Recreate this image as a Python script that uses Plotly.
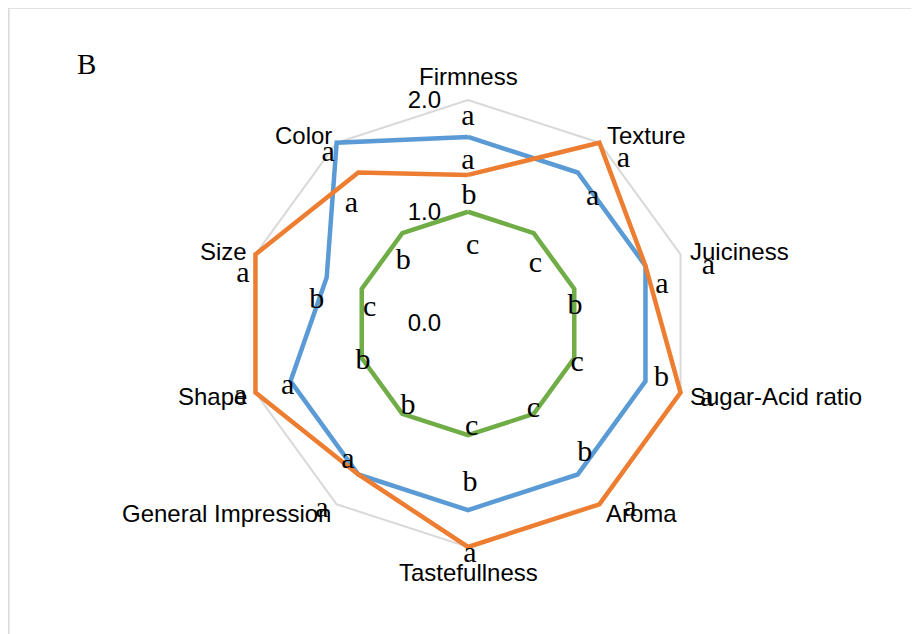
import math
import plotly.graph_objects as go

# Attributes (clockwise from top)
attributes = ['Firmness', 'Texture', 'Juiciness', 'Sugar-Acid ratio', 'Aroma',
              'Tastefullness', 'General Impression', 'Shape', 'Size', 'Color']

blue_vals = [1.67, 1.67, 1.67, 1.67, 1.67, 1.67, 1.67, 1.67, 1.33, 2.0]
orange_vals = [1.33, 2.0, 1.67, 2.0, 2.0, 2.0, 1.67, 2.0, 2.0, 1.67]
green_vals = [1.0, 1.0, 1.0, 1.0, 1.0, 1.0, 1.0, 1.0, 1.0, 1.0]

radial_ticks = [0, 1, 2]

# where the attribute names sit (r, angle clockwise from top)
label_r = [2.21, 2.32, 2.51, 2.83, 2.30, 2.22, 2.75, 2.38, 2.28, 2.23]
label_theta = [0, 43.6, 75.2, 103.25, 137.5, 179.9, 231.9, 254.2, 286.3, 318.7]

# significance letters
letters = ['a', 'a', 'b', 'c',
           'a', 'a', 'c',
           'a', 'a', 'b',
           'a', 'b', 'c',
           'a', 'b', 'c',
           'a', 'b', 'c',
           'a', 'a', 'b',
           'a', 'a', 'b',
           'a', 'b', 'c',
           'a', 'a', 'b']
letter_r = [1.84, 1.45, 1.14, 0.69,
            2.02, 1.59, 0.80,
            2.21, 1.77, 0.97,
            2.24, 1.80, 1.04,
            2.20, 1.56, 0.97,
            2.07, 1.43, 0.93,
            2.12, 1.63, 0.92,
            2.14, 1.71, 1.00,
            2.06, 1.37, 0.89,
            1.97, 1.49, 0.80]
letter_theta = [0, 0, 0.5, 3.5,
                43.5, 44.6, 48.9,
                76.7, 78.8, 81.1,
                107.4, 105.8, 110.1,
                138.8, 138.0, 142.9,
                179.5, 179.3, 178.0,
                218.1, 221.2, 215.7,
                252.2, 250.6, 250.0,
                282.2, 278.8, 278.4,
                320.6, 315.5, 313.7]

W, H = 919, 634
OFF = 8                      # page body margin
CX, CY = 468, 323.5          # chart centre on the page
UNIT = 111.75                # pixels per 1.0 on the radial axis
R_MAX = 2.3                  # radial range (room for outer letters)
S = 2 * R_MAX * UNIT
ML, MT = CX - S / 2 - OFF, CY - S / 2 - OFF
MR, MB = W - ML - S, H - MT - S


def px_to_paper(x, y):
    return (x - OFF - ML) / S, (H - MB - (y - OFF)) / S


def polar_to_paper(r, theta):
    t = math.radians(theta)
    return px_to_paper(CX + r * UNIT * math.sin(t), CY - r * UNIT * math.cos(t))


def closed(vals):
    return list(vals) + [vals[0]]


fig = go.Figure()

series = [
    (blue_vals, '#5B9BD5'),
    (orange_vals, '#ED7D31'),
    (green_vals, '#70AD47'),
]
for vals, color in series:
    fig.add_trace(go.Scatterpolar(
        r=closed(vals),
        theta=closed(attributes),
        mode='lines',
        line=dict(color=color, width=4.5),
        showlegend=False,
        hoverinfo='skip',
        subplot='polar'
    ))

# letters
fig.add_trace(go.Scatterpolar(
    r=letter_r,
    theta=letter_theta,
    mode='text',
    text=letters,
    textposition='middle center',
    textfont=dict(family='Liberation Serif', size=30, color='#000000'),
    cliponaxis=False,
    showlegend=False,
    hoverinfo='skip',
    subplot='polar2'
))

annotations = []
for name, r, th in zip(attributes, label_r, label_theta):
    ax, ay = polar_to_paper(r, th)
    annotations.append(dict(
        x=ax, y=ay, xref='paper', yref='paper', text=name, showarrow=False,
        xanchor='center', yanchor='middle',
        font=dict(family='Liberation Sans', size=24, color='#000000')
    ))

bx, by = px_to_paper(86, 64)
annotations.append(dict(
    x=bx, y=by, xref='paper', yref='paper',
    text='B', showarrow=False,
    xanchor='center', yanchor='middle',
    font=dict(family='Liberation Serif', size=29, color='#000000')
))

x_left, y_top = px_to_paper(OFF + 0.75, 8.5)
x_right, y_bottom = px_to_paper(W + OFF, H + OFF)

tick_font = dict(family='Liberation Sans', size=24, color='#000000')

fig.update_layout(
    width=W, height=H,
    margin=dict(l=ML, r=MR, t=MT, b=MB),
    paper_bgcolor='#FFFFFF',
    font=dict(family='Liberation Sans', size=24, color='#000000'),
    polar=dict(
        domain=dict(x=[0, 1], y=[0, 1]),
        bgcolor='rgba(0,0,0,0)',
        gridshape='linear',
        angularaxis=dict(
            rotation=90,
            direction='clockwise',
            showgrid=False,
            showline=False,
            ticks='',
            showticklabels=False
        ),
        radialaxis=dict(
            range=[0, R_MAX],
            tickmode='array',
            tickvals=radial_ticks,
            tickformat='.1f',
            angle=90,
            tickangle=90,
            side='counterclockwise',
            showline=False,
            showgrid=True,
            gridcolor='#D9D9D9',
            gridwidth=1.5,
            ticks='outside',
            ticklen=18,
            tickcolor='rgba(0,0,0,0)',
            tickfont=tick_font,
            layer='below traces'
        )
    ),
    polar2=dict(
        domain=dict(x=[0, 1], y=[0, 1]),
        bgcolor='rgba(0,0,0,0)',
        angularaxis=dict(
            rotation=90,
            direction='clockwise',
            visible=False
        ),
        radialaxis=dict(
            range=[0, R_MAX],
            visible=False
        )
    ),
    annotations=annotations,
    shapes=[
        dict(type='line', xref='paper', yref='paper',
             x0=x_left, y0=y_top, x1=x_right, y1=y_top,
             line=dict(color='#D9D9D9', width=1.5)),
        dict(type='line', xref='paper', yref='paper',
             x0=x_left, y0=y_top, x1=x_left, y1=y_bottom,
             line=dict(color='#D9D9D9', width=1.5)),
    ]
)

fig.write_html("out.html")
